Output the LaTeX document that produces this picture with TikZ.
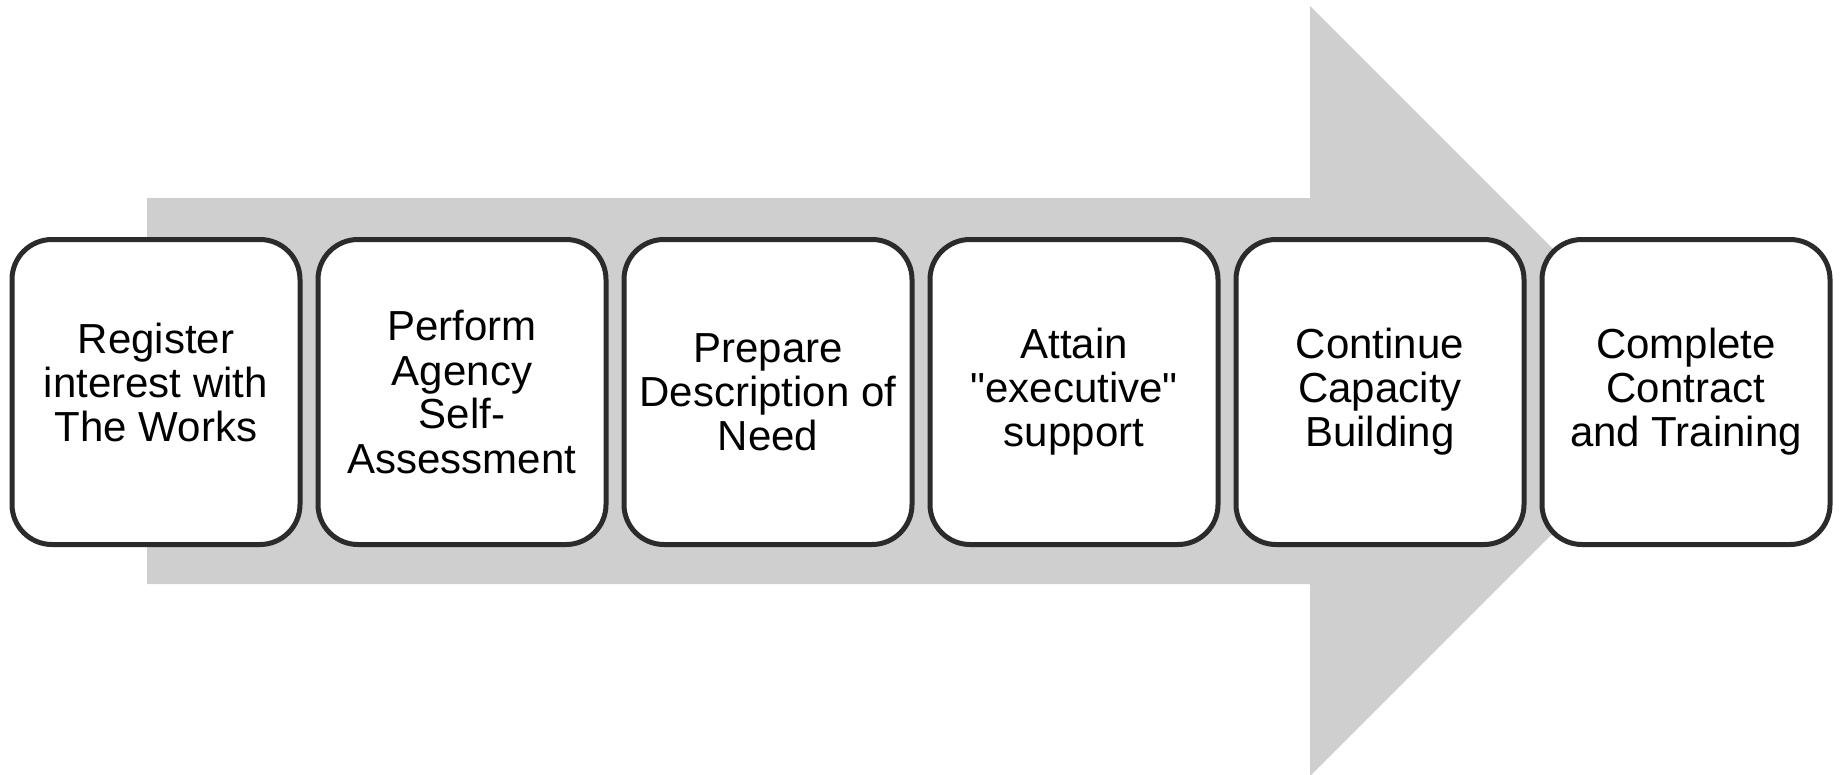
\documentclass[tikz,border=0pt]{standalone}
\usepackage{fontspec}
\setmainfont{Liberation Sans}[Ligatures=TeXOff]
\definecolor{arrowgray}{HTML}{CFCFCF}
\definecolor{boxline}{HTML}{2B2B2B}
\begin{document}
\begin{tikzpicture}[x=1pt,y=-1pt,
  stagebox/.style={draw=boxline, line width=5pt, fill=white, rounded corners=40pt,
    minimum width=288pt, minimum height=305pt, inner sep=0pt, align=center,
    font=\fontsize{42}{44}\selectfont}]
\useasboundingbox (0,0) rectangle (1843,774);
% large grey process arrow behind the stages
\fill[arrowgray] (147,198) -- (1310,198) -- (1310,6) -- (1695,391)
  -- (1310,776) -- (1310,584) -- (147,584) -- cycle;
% stages
\node[stagebox] (s1) at (156,392)  {Register\\interest with\\The Works\\[-25pt]};
\node[stagebox] (s2) at (462,392)  {Perform\\Agency\\Self-\\Assessment};
\node[stagebox] (s3) at (768,392)  {Prepare\\Description of\\Need};
\node[stagebox] (s4) at (1074,392) {Attain\\"executive"\\support};
\node[stagebox] (s5) at (1380,392) {Continue\\Capacity\\Building};
\node[stagebox] (s6) at (1686,392) {Complete\\Contract\\and Training};
\end{tikzpicture}
\end{document}
